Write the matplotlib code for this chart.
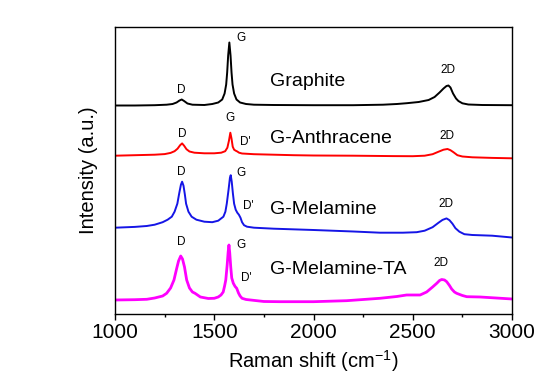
import matplotlib
matplotlib.use("Agg")
import matplotlib.pyplot as plt
from matplotlib.ticker import MultipleLocator

plt.rcParams['font.family'] = ['Liberation Sans', 'DejaVu Sans']
plt.rcParams['mathtext.default'] = 'regular'

# Raman spectra (x in cm^-1, y relative to each spectrum's baseline)
graphite_x = [1000, 1100, 1200, 1260, 1290, 1310, 1325, 1336, 1348, 1365, 1390, 1450, 1490, 1520,
              1540, 1552, 1560, 1565, 1570, 1576, 1582, 1587, 1592, 1600, 1612, 1630, 1660, 1700,
              1800, 2000, 2200, 2350, 2420, 2470, 2530, 2580, 2610, 2635, 2655, 2670, 2680, 2690,
              2703, 2718, 2730, 2750, 2780, 2850, 3000]
graphite_y = [0, 0, 0.3, 0.8, 1.5, 3, 5, 6, 4.5, 2, 0.8, 0.5, 1.5, 3,
              6, 12, 21, 33, 50, 63, 50, 33, 21, 12, 6, 3, 1.5, 0.8,
              0.5, 0.3, 0.3, 0.8, 1.5, 2.3, 3.5, 5.5, 8.5, 13, 17, 19.5, 20, 18,
              12, 7, 4.5, 2.2, 1, 0.5, 0.3]

anthracene_x = [1000, 1100, 1200, 1250, 1280, 1300, 1315, 1328, 1338, 1348, 1360, 1375, 1400, 1450,
                1500, 1535, 1555, 1566, 1574, 1581, 1587, 1593, 1600, 1608, 1616, 1625, 1640, 1700,
                1800, 1900, 2000, 2200, 2400, 2500, 2560, 2600, 2630, 2655, 2675, 2690, 2705, 2725,
                2750, 2800, 2900, 3000]
anthracene_y = [0, 0.5, 1, 1.6, 2.8, 4.5, 7, 10.5, 12.3, 10, 6.5, 4.2, 3, 2.4,
                2.4, 3, 4.5, 8, 15, 23, 17, 9, 6, 5, 4.2, 3, 2.2, 1.5,
                1, 0.5, 0.2, 0, -0.4, -0.5, 0, 1.5, 4, 6, 6.7, 5.5, 3.5, 0.5,
                -0.8, -1.6, -2.2, -2.6]

melamine_x = [1000, 1100, 1160, 1200, 1240, 1265, 1286, 1300, 1314, 1324, 1332, 1338, 1345, 1352,
              1358, 1370, 1386, 1410, 1450, 1490, 1520, 1546, 1556, 1563, 1572, 1579, 1583, 1588,
              1594, 1600, 1608, 1616, 1624, 1632, 1640, 1650, 1665, 1700, 1800, 2000, 2200, 2335,
              2450, 2520, 2560, 2600, 2630, 2650, 2670, 2685, 2700, 2715, 2735, 2760, 2800, 2900, 3000]
melamine_y = [0, 0.8, 1.7, 3, 5.5, 8, 11, 16, 24, 35, 43, 46, 42, 33,
              24, 16, 11, 8, 6, 5.5, 7, 11, 16, 24, 38, 50, 52.5, 46,
              34, 24, 18, 15, 13, 10, 5.5, 2.5, 1, 0, -1, -2.3, -3.8, -5,
              -5, -4.5, -3, 0.5, 5, 7.8, 9.3, 7.5, 4, -0.5, -4, -6.5, -7.3, -8, -9.8]

melamine_ta_x = [1000, 1100, 1160, 1200, 1240, 1260, 1280, 1297, 1310, 1320, 1331, 1340, 1350, 1361,
                 1375, 1390, 1403, 1430, 1470, 1500, 1520, 1534, 1545, 1552, 1558, 1565, 1570, 1574,
                 1578, 1583, 1588, 1596, 1605, 1613, 1622, 1630, 1640, 1660, 1750, 1830, 2000, 2167,
                 2335, 2420, 2469, 2537, 2570, 2600, 2621, 2635, 2646, 2660, 2671, 2685, 2696, 2710,
                 2721, 2750, 2772, 2839, 2920, 3000]
melamine_ta_y = [0, 0.3, 0.7, 2, 4, 6.7, 12, 20, 31, 39, 44, 41, 33, 20,
                 12, 8, 6.7, 3, 1.5, 1.7, 3, 5, 8, 14, 20, 35, 48, 55,
                 47, 33, 22, 16.7, 13.5, 11.7, 7, 4, 1.7, 0.5, -1.5, -1.7, -1.7, -0.7,
                 1.7, 3.5, 5, 5, 8, 13, 16.7, 19.5, 20.5, 20, 18.3, 14.5, 11, 8,
                 6.7, 4.5, 3.3, 3, 2, 1]

names = ['Graphite', 'G-Anthracene', 'G-Melamine', 'G-Melamine-TA']
offsets = [208.5, 158.3, 86.3, 14]
colors = ['black', '#ff0000', '#1515e6', '#ff00ff']
spectra = [(graphite_x, graphite_y), (anthracene_x, anthracene_y),
           (melamine_x, melamine_y), (melamine_ta_x, melamine_ta_y)]
name_y = [232.3, 175.7, 104, 44.7]

# peak labels: (text, x, y)
peak_labels = [
    [('D', 1332, 224), ('G', 1635, 275.7), ('2D', 2679, 244)],
    [('D', 1339, 180), ('G', 1579, 195.7), ("D'", 1655, 172.3), ('2D', 2671, 178)],
    [('D', 1336, 142.3), ('G', 1637, 141.3), ("D'", 1672, 108), ('2D', 2668, 109.7)],
    [('D', 1332, 71.7), ('G', 1633, 69), ("D'", 1663, 35.7), ('2D', 2641, 50.7)],
]

fig = plt.figure(figsize=(5.39, 3.73), dpi=100)
ax = fig.add_axes([0.2134, 0.1582, 0.7365, 0.7694])

for (xs, ys), off, c, lw in zip(spectra, offsets, colors, [1.4, 1.4, 1.4, 2.0]):
    ax.plot(xs, [v + off for v in ys], color=c, lw=lw)

for name, ny in zip(names, name_y):
    ax.text(1781, ny, name, fontsize=14, ha='left', va='center')

for group in peak_labels:
    for t, px, py in group:
        ax.text(px, py, t, fontsize=8.5, ha='center', va='center')

ax.set_xlim(1000, 3000)
ax.set_ylim(0, 287)
ax.set_yticks([])
ax.xaxis.set_major_locator(MultipleLocator(500))
ax.xaxis.set_minor_locator(MultipleLocator(250))
ax.tick_params(axis='x', which='major', direction='out', length=4.5, width=1, labelsize=15, pad=2)
ax.tick_params(axis='x', which='minor', direction='out', length=2.5, width=1)
for s in ax.spines.values():
    s.set_linewidth(1.0)

ax.set_xlabel(r'Raman shift (cm$^{-1}$)', fontsize=14.5, va='center')
ax.xaxis.set_label_coords(0.5, -0.163)
ax.set_ylabel('Intensity (a.u.)', fontsize=14.5, va='center')
ax.yaxis.set_label_coords(-0.066, 0.5)

fig.savefig('out.png', dpi=100)
